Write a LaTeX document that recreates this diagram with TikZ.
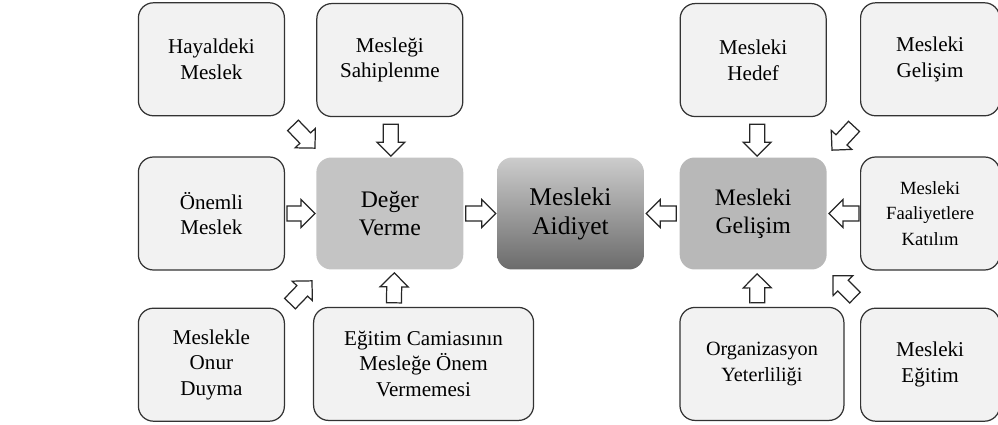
\documentclass[tikz,border=0pt]{standalone}
\usepackage{fontspec}
\setmainfont{Liberation Serif}
\usetikzlibrary{calc}
\usetikzlibrary{positioning}

\begin{document}
\begin{tikzpicture} [
    x=0.02cm, y=-0.02cm,
    factor/.style={rectangle, rounded corners=0.3cm, draw=black!80, line width=0.7pt, fill=black!5, minimum width=2.92cm, minimum height=2.26cm, align=center, font=\fontsize{12}{14.5}\selectfont},
    core/.style={rectangle, rounded corners=0.3cm, minimum width=2.94cm, minimum height=2.24cm, align=center, font=\fontsize{13.5}{16}\selectfont},
    blk/.style={draw=black!85, fill=white, line width=0.7pt,
      to path={(\tikztostart) coordinate (bS) (\tikztotarget) coordinate (bE)
        ($(bE)!0.28cm!(bS)$) coordinate (bH)
        ($(bS)!0.15cm!90:(bE)$) -- ($(bH)!0.15cm!-90:(bS)$) -- ($(bH)!0.28cm!-90:(bS)$) -- (bE)
        -- ($(bH)!0.28cm!90:(bS)$) -- ($(bH)!0.15cm!90:(bS)$) -- ($(bS)!0.15cm!-90:(bE)$) -- cycle}},
    node distance=0.8cm and 0.66cm
    ]
    \useasboundingbox (0,0) rectangle (998,425);

    %Nodes
    \node[core, top color=black!20, bottom color=black!58, font=\fontsize{14.5}{16.5}\selectfont] (aidiyet) at (570.5,213.5) {Mesleki\\Aidiyet};
    \node[core, fill=black!23]   (deger)   [left=0.66cm of aidiyet] {Değer\\Verme};
    \node[core, fill=black!28]   (gelisim) [right=0.7cm of aidiyet] {Mesleki\\Gelişim};
    \node[factor]  (onemli)  [left=0.62cm of deger] {Önemli\\Meslek};
    \node[factor, minimum width=2.78cm, font=\fontsize{10.6}{14.5}\selectfont]  (faal)  [right=0.66cm of gelisim] {Mesleki\\Faaliyetlere\\Katılım};
    \node[factor]  (sahip)   [above=of deger] {Mesleği\\Sahiplenme};
    \node[factor]  (hayal)   [above=of onemli] {Hayaldeki\\Meslek};
    \node[factor]  (hedef)   [above=of gelisim] {Mesleki\\Hedef};
    \node[factor, minimum width=2.78cm]  (gelust)  [above=of faal] {Mesleki\\Gelişim};
    \node[factor]  (onur)    [below=0.74cm of onemli] {Meslekle\\Onur\\Duyma};
    \node[factor, minimum width=4.4cm]  (camia)  [below=0.74cm of deger.south west, anchor=north west, xshift=-0.06cm] {Eğitim Camiasının\\Mesleğe Önem\\Vermemesi};
    \node[factor, minimum width=3.28cm, font=\fontsize{11.5}{14.5}\selectfont] (org) [below=0.74cm of gelisim.south west, anchor=north west] {Organizasyon\\Yeterliliği};
    \node[factor, minimum width=2.78cm] (egitim) [below=0.74cm of faal] {Mesleki\\Eğitim};

    %Lines
    \draw[blk] ($(sahip.south)+(1,7)$) to ($(deger.north)+(1,-1)$);
    \draw[blk] ($(hayal.south east)+(8,9)$) to ($(deger.north west)+(-1,-9)$);
    \draw[blk] ($(onemli.east)+(2,0)$) to ($(deger.west)+(-1,0)$);
    \draw[blk] ($(onur.north east)+(5,-4)$) to ($(deger.south west)+(-4,11)$);
    \draw[blk] ($(camia.north west)+(81,-4)$) to ($(deger.south)+(4.5,3)$);
    \draw[blk] ($(deger.east)+(2,0)$) to ($(aidiyet.west)+(-1,0)$);
    \draw[blk] ($(gelisim.west)+(-3,0)$) to ($(aidiyet.east)+(2,0)$);
    \draw[blk] ($(hedef.south)+(4,7)$) to ($(gelisim.north)+(4,-1)$);
    \draw[blk] ($(gelust.south west)+(-6,10)$) to ($(gelisim.north east)+(5,-7)$);
    \draw[blk] ($(faal.west)+(-1,0)$) to ($(gelisim.east)+(2,0)$);
    \draw[blk] ($(org.north west)+(78,-4)$) to ($(gelisim.south)+(4,4)$);
    \draw[blk] ($(egitim.north west)+(-5,-10)$) to ($(gelisim.south east)+(6,6)$);
\end{tikzpicture}
\end{document}
